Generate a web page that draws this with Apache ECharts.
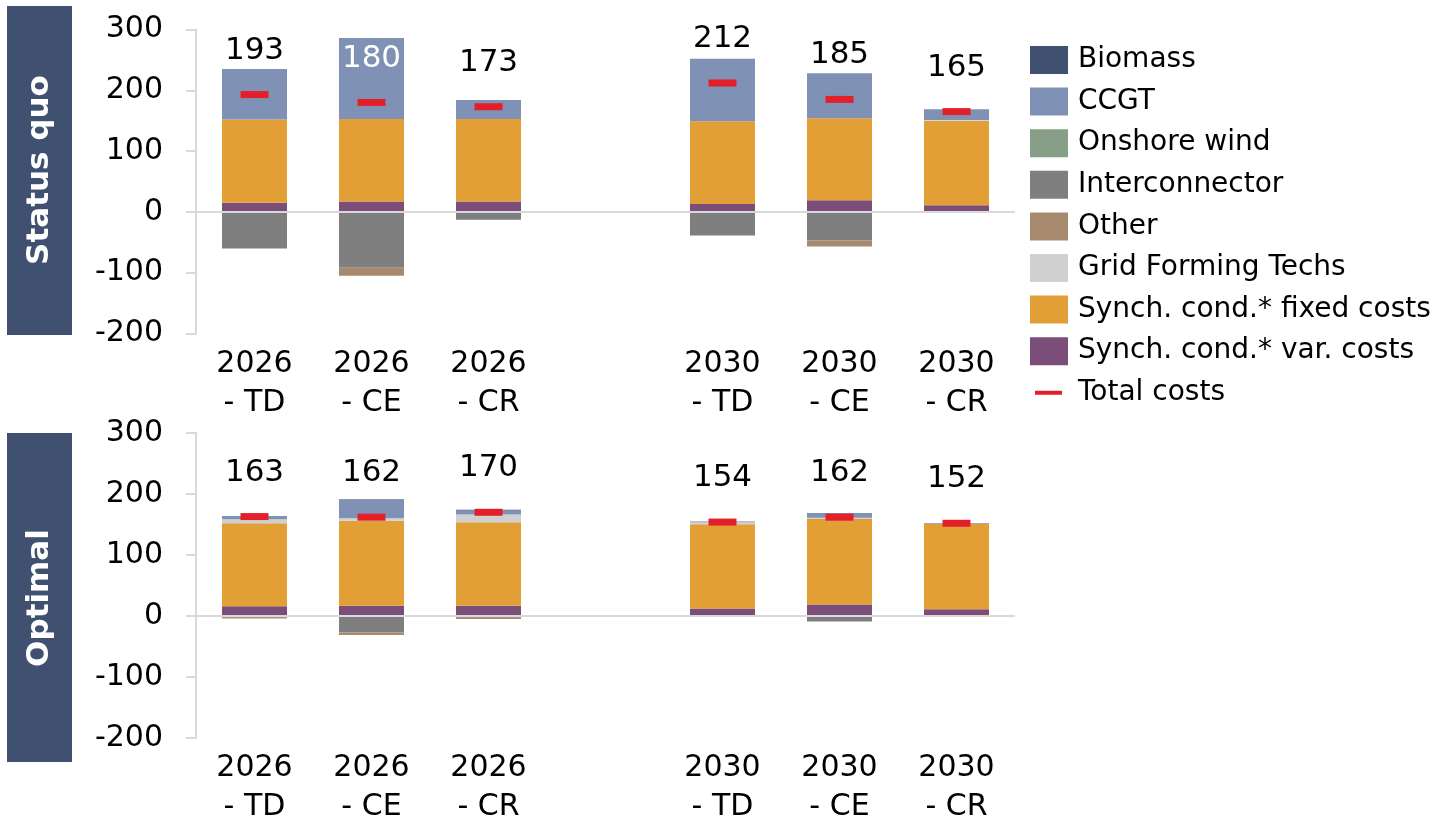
<!DOCTYPE html>
<html lang="en">
<head>
    <meta charset="UTF-8">
    <title>Synchronous condenser costs</title>
    <script src="https://cdnjs.cloudflare.com/ajax/libs/echarts/6.0.0/echarts.min.js"></script>
    <style>
        html, body { margin: 0; padding: 0; background: #fff; }
        #chart { width: 1443px; height: 817px; }
    </style>
</head>
<body>
    <div id="chart"></div>

    <script>
        // Categories (empty slot separates 2026 from 2030)
        var categories = ['2026\n- TD', '2026\n- CE', '2026\n- CR', '', '2030\n- TD', '2030\n- CE', '2030\n- CR'];

        // Status quo
        var sqVar = [15, 17, 17, null, 13, 19, 11];
        var sqFixed = [137, 136, 136, null, 136, 135, 139];
        var sqGrid = [0, 0, 0, null, 0, 0, 1];
        var sqCcgt = [83, 133, 31, null, 103, 74, 18];
        var sqBiomass = [0, 0, 0, null, 0, 0, 0];
        var sqWind = [0, 0, 0, null, 0, 0, 0];
        var sqInter = [-60, -92, -13, null, -39, -47, -2];
        var sqOther = [0, -13, 0, null, 0, -10, 0];
        var sqTotal = [193, 180, 173, null, 212, 185, 165];

        // Optimal
        var opVar = [16, 17, 17, null, 12.5, 19, 11];
        var opFixed = [136, 139, 136.5, null, 138, 140, 140];
        var opGrid = [6.5, 4.4, 13, null, 3, 2, 0];
        var opCcgt = [5.6, 30, 6.5, null, 1, 8, 0.5];
        var opBiomass = [0, 1, 1, null, 0.5, 0, 0.5];
        var opWind = [0, 0, 0, null, 0, 0, 0];
        var opInter = [-3, -27, -3, null, 0, -9, 0];
        var opOther = [-1, -4, -2, null, 0, 0, 0];
        var opTotal = [163, 162, 170, null, 154, 162, 152];

        var yTicks = { min: -200, max: 300, interval: 100 };

        var colors = {
            'Biomass': '#3F5070',
            'CCGT': '#7F91B4',
            'Onshore wind': '#879F86',
            'Interconnector': '#7F7F7F',
            'Other': '#A88B6E',
            'Grid Forming Techs': '#D0D0D0',
            'Synch. cond.* fixed costs': '#E19F36',
            'Synch. cond.* var. costs': '#7B4D79',
            'Total costs': '#E3202A'
        };

        var FONT = 'DejaVu Sans, Verdana, sans-serif';
        var chart = echarts.init(document.getElementById('chart'));

        function bar(name, data, idx) {
            return {
                name: name,
                type: 'bar',
                stack: 'cost' + idx,
                xAxisIndex: idx,
                yAxisIndex: idx,
                barWidth: 65,
                itemStyle: { color: colors[name] },
                data: data.map(function (v) { return v === null ? '-' : v; })
            };
        }

        function totals(data, idx, whiteIdx) {
            return {
                name: 'Total costs',
                type: 'scatter',
                xAxisIndex: idx,
                yAxisIndex: idx,
                symbol: 'rect',
                symbolSize: [28, 7],
                z: 10,
                itemStyle: { color: colors['Total costs'], opacity: 1 },
                label: {
                    show: true,
                    position: 'top',
                    distance: 25,
                    fontFamily: FONT,
                    fontSize: 31,
                    lineHeight: 31,
                    color: '#000'
                },
                data: data.map(function (v, i) {
                    if (v === null) return '-';
                    if (i === whiteIdx) return { value: v, label: { color: '#fff' } };
                    return v;
                })
            };
        }

        function group(idx, d, whiteIdx) {
            var s = [
                bar('Synch. cond.* var. costs', d.v, idx),
                bar('Synch. cond.* fixed costs', d.f, idx),
                bar('Grid Forming Techs', d.g, idx),
                bar('CCGT', d.c, idx),
                bar('Biomass', d.b, idx),
                bar('Onshore wind', d.w, idx),
                bar('Interconnector', d.i, idx),
                bar('Other', d.o, idx),
                totals(d.t, idx, whiteIdx)
            ];
            // zero line across the plot
            s[0].markLine = {
                silent: true,
                symbol: 'none',
                label: { show: false },
                lineStyle: { color: '#D9D9D9', width: 2, type: 'solid' },
                data: [{ yAxis: 0 }]
            };
            return s;
        }

        function xAxis(idx) {
            return {
                type: 'category',
                gridIndex: idx,
                data: categories,
                axisLine: { show: false },
                axisTick: { show: false },
                axisLabel: {
                    interval: 0,
                    margin: 11,
                    fontFamily: FONT,
                    fontSize: 30,
                    lineHeight: 39,
                    color: '#000'
                }
            };
        }

        function yAxis(idx) {
            return {
                type: 'value',
                gridIndex: idx,
                min: yTicks.min,
                max: yTicks.max,
                interval: yTicks.interval,
                axisLine: { show: true, lineStyle: { color: '#D9D9D9', width: 2 } },
                axisTick: { show: true, length: 10, lineStyle: { color: '#D9D9D9', width: 2 } },
                splitLine: { show: false },
                axisLabel: {
                    margin: 33,
                    fontFamily: FONT,
                    fontSize: 30,
                    color: '#000'
                }
            };
        }

        var legendNames = ['Biomass', 'CCGT', 'Onshore wind', 'Interconnector', 'Other',
            'Grid Forming Techs', 'Synch. cond.* fixed costs', 'Synch. cond.* var. costs'];
        var legendData = legendNames.map(function (n) { return { name: n, icon: 'rect' }; });
        legendData.push({ name: 'Total costs', icon: 'path://M0,0 M5,12 H32 V16 H5 Z M38,28' });

        var option = {
            backgroundColor: '#fff',
            animation: false,
            grid: [
                { left: 196, top: 29.5, width: 819, height: 304, outerBoundsMode: 'none', containLabel: false },
                { left: 196, top: 433, width: 819, height: 305, outerBoundsMode: 'none', containLabel: false }
            ],
            xAxis: [xAxis(0), xAxis(1)],
            yAxis: [yAxis(0), yAxis(1)],
            legend: {
                orient: 'vertical',
                left: 1025,
                top: 41,
                itemWidth: 38,
                itemHeight: 28,
                itemGap: 13.6,
                selectedMode: false,
                textStyle: {
                    fontFamily: FONT,
                    fontSize: 28,
                    lineHeight: 28,
                    color: '#000',
                    padding: [0, 0, 0, 5]
                },
                data: legendData
            },
            graphic: [
                { type: 'rect', left: 7, top: 6, shape: { width: 65, height: 329 }, style: { fill: '#3F5070' } },
                {
                    type: 'text', x: 39.5, y: 170, rotation: Math.PI / 2,
                    style: { text: 'Status quo', fill: '#fff', font: 'bold 31px ' + FONT, align: 'center', verticalAlign: 'middle' }
                },
                { type: 'rect', left: 7, top: 433, shape: { width: 65, height: 329 }, style: { fill: '#3F5070' } },
                {
                    type: 'text', x: 39.5, y: 598, rotation: Math.PI / 2,
                    style: { text: 'Optimal', fill: '#fff', font: 'bold 31px ' + FONT, align: 'center', verticalAlign: 'middle' }
                }
            ],
            series: [].concat(
                group(0, { v: sqVar, f: sqFixed, g: sqGrid, c: sqCcgt, b: sqBiomass, w: sqWind, i: sqInter, o: sqOther, t: sqTotal }, 1),
                group(1, { v: opVar, f: opFixed, g: opGrid, c: opCcgt, b: opBiomass, w: opWind, i: opInter, o: opOther, t: opTotal }, -1)
            )
        };

        chart.setOption(option);
    </script>
</body>
</html>
